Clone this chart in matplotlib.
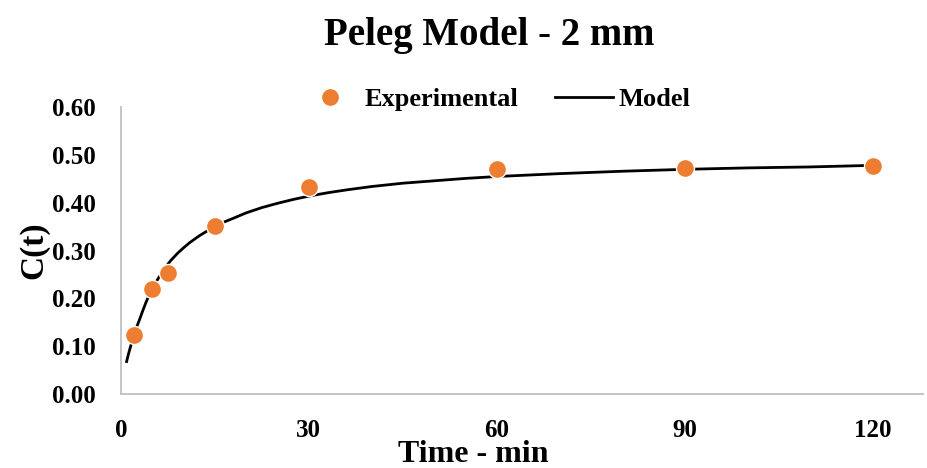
import matplotlib.pyplot as plt
import matplotlib as mpl

# experimental points
t_exp = [2, 5, 7.5, 15, 30, 60, 90, 120]
c_exp = [0.123, 0.219, 0.254, 0.351, 0.433, 0.471, 0.472, 0.476]

# model curve
t_model = [0.9, 1.2, 1.5, 2, 2.5, 3, 3.5, 4, 4.5, 5, 5.5, 6, 6.5, 7, 7.5, 8, 9, 10, 11,
           12.5, 14, 15, 16.5, 18, 20, 22.5, 25, 27.5, 30, 33, 36, 40, 45, 50, 55,
           60, 70, 80, 90, 100, 110, 119]
c_model = [0.068, 0.084, 0.098, 0.120, 0.140, 0.157, 0.175, 0.192, 0.207, 0.220,
           0.232, 0.243, 0.253, 0.263, 0.272, 0.280, 0.294, 0.306, 0.317, 0.331,
           0.343, 0.351, 0.360, 0.368, 0.379, 0.390, 0.399, 0.407, 0.414, 0.421,
           0.427, 0.434, 0.441, 0.446, 0.451, 0.455, 0.461, 0.466, 0.470, 0.473,
           0.475, 0.478]

xticks = [0, 30, 60, 90, 120]
yticks = [0.0, 0.1, 0.2, 0.3, 0.4, 0.5, 0.6]

plt.rcParams['font.family'] = ['Liberation Serif', 'DejaVu Serif']
plt.rcParams['font.weight'] = 'bold'

fig = plt.figure(figsize=(9.27, 4.68), dpi=100)
ax = fig.add_axes([0.1305, 0.158, 0.865, 0.613])

ax.plot(t_model, c_model, color='black', lw=2, label='Model', zorder=2)
ax.plot(t_exp, c_exp, 'o', color='#ed7d31', markersize=13, markeredgecolor='white',
        markeredgewidth=1, label='Experimental', zorder=3)

ax.set_xlim(0, 128)
ax.set_ylim(0, 0.6)
ax.set_xticks(xticks)
ax.set_yticks(yticks)
ax.set_yticklabels(['%.2f' % v for v in yticks])
ax.tick_params(length=0, labelsize=18)
ax.tick_params(axis='y', pad=18)
ax.tick_params(axis='x', pad=18)
for lab in ax.get_xticklabels() + ax.get_yticklabels():
    lab.set_fontweight('bold')

for s in ['top', 'right']:
    ax.spines[s].set_visible(False)
for s in ['left', 'bottom']:
    ax.spines[s].set_color('#bfbfbf')
    ax.spines[s].set_linewidth(1.3)

ax.set_ylabel('C(t)', fontsize=24, fontweight='bold', labelpad=2)
fig.text(0.51, 0.028, 'Time - min', fontsize=23, fontweight='bold', ha='center', va='center')
fig.text(0.528, 0.925, 'Peleg Model - 2 mm', fontsize=28, fontweight='bold', ha='center', va='center')

h, l = ax.get_legend_handles_labels()
ax.legend(h[::-1], l[::-1], loc='center', bbox_to_anchor=(0.535, 0.787), bbox_transform=fig.transFigure,
          ncol=2, frameon=False, fontsize=19, handlelength=2.2, columnspacing=1.4, handletextpad=0.2,
          borderpad=0)

fig.savefig('out.png', dpi=100)
